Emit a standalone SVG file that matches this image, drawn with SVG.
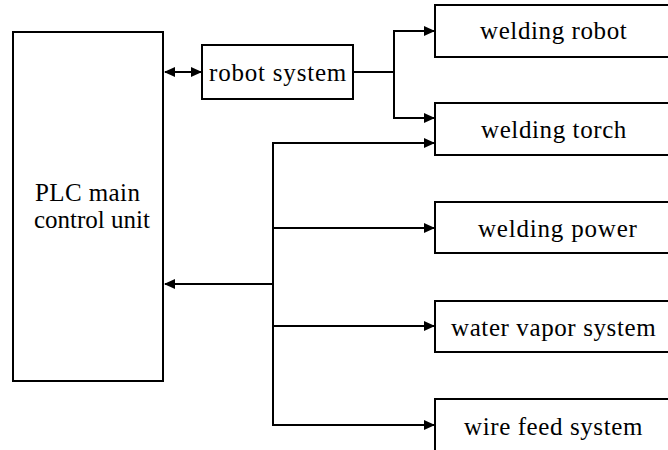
<svg xmlns="http://www.w3.org/2000/svg" width="668" height="450" viewBox="0 0 668 450">
<style>
.box{fill:#fff;stroke:#000;stroke-width:2}
.c{fill:none;stroke:#000;stroke-width:2}
</style>
<defs>
<marker id="ah" markerUnits="userSpaceOnUse" markerWidth="12" markerHeight="10" refX="10" refY="5" orient="auto-start-reverse" viewBox="0 0 12 10">
<path d="M0,0 L11,5 L0,10 Z" fill="#000"/>
</marker>
</defs>
<rect width="668" height="450" fill="#fff"/>
<g id="connectors">
<line class="c" x1="165" y1="72" x2="201" y2="72" marker-start="url(#ah)" marker-end="url(#ah)"/>
<path class="c" d="M353,72 H394"/>
<path class="c" d="M394,31 V118"/>
<line class="c" x1="393" y1="31" x2="434" y2="31" marker-end="url(#ah)"/>
<line class="c" x1="393" y1="118" x2="434" y2="118" marker-end="url(#ah)"/>
<path class="c" d="M273,142 V426"/>
<line class="c" x1="272" y1="143" x2="434" y2="143" marker-end="url(#ah)"/>
<line class="c" x1="272" y1="228" x2="434" y2="228" marker-end="url(#ah)"/>
<line class="c" x1="272" y1="326" x2="434" y2="326" marker-end="url(#ah)"/>
<line class="c" x1="272" y1="425" x2="434" y2="425" marker-end="url(#ah)"/>
<line class="c" x1="274" y1="284" x2="165" y2="284" marker-end="url(#ah)"/>
</g>
<g id="plc">
<rect class="box" x="13" y="32" width="150" height="349"/>
<text x="35" y="201" font-family="Liberation Serif" font-size="25" letter-spacing="0.4">PLC main</text>
<text x="34" y="228" font-family="Liberation Serif" font-size="25">control unit</text>
</g>
<g id="robot-system">
<rect class="box" x="202" y="45" width="151" height="54"/>
<text x="209" y="81" font-family="Liberation Serif" font-size="25" letter-spacing="0.8">robot system</text>
</g>
<g id="welding-robot">
<rect class="box" x="435" y="5" width="250" height="52"/>
<text x="480" y="39" font-family="Liberation Serif" font-size="25" letter-spacing="0.6">welding robot</text>
</g>
<g id="welding-torch">
<rect class="box" x="435" y="103" width="250" height="52"/>
<text x="481" y="138" font-family="Liberation Serif" font-size="25" letter-spacing="0.6">welding torch</text>
</g>
<g id="welding-power">
<rect class="box" x="435" y="202" width="250" height="51"/>
<text x="478" y="237" font-family="Liberation Serif" font-size="25" letter-spacing="0.8">welding power</text>
</g>
<g id="water-vapor-system">
<rect class="box" x="435" y="301" width="250" height="51"/>
<text x="451" y="336" font-family="Liberation Serif" font-size="25" letter-spacing="0.6">water vapor system</text>
</g>
<g id="wire-feed-system">
<rect class="box" x="435" y="399" width="250" height="70"/>
<text x="464" y="435" font-family="Liberation Serif" font-size="25" letter-spacing="0.6">wire feed system</text>
</g>
</svg>
